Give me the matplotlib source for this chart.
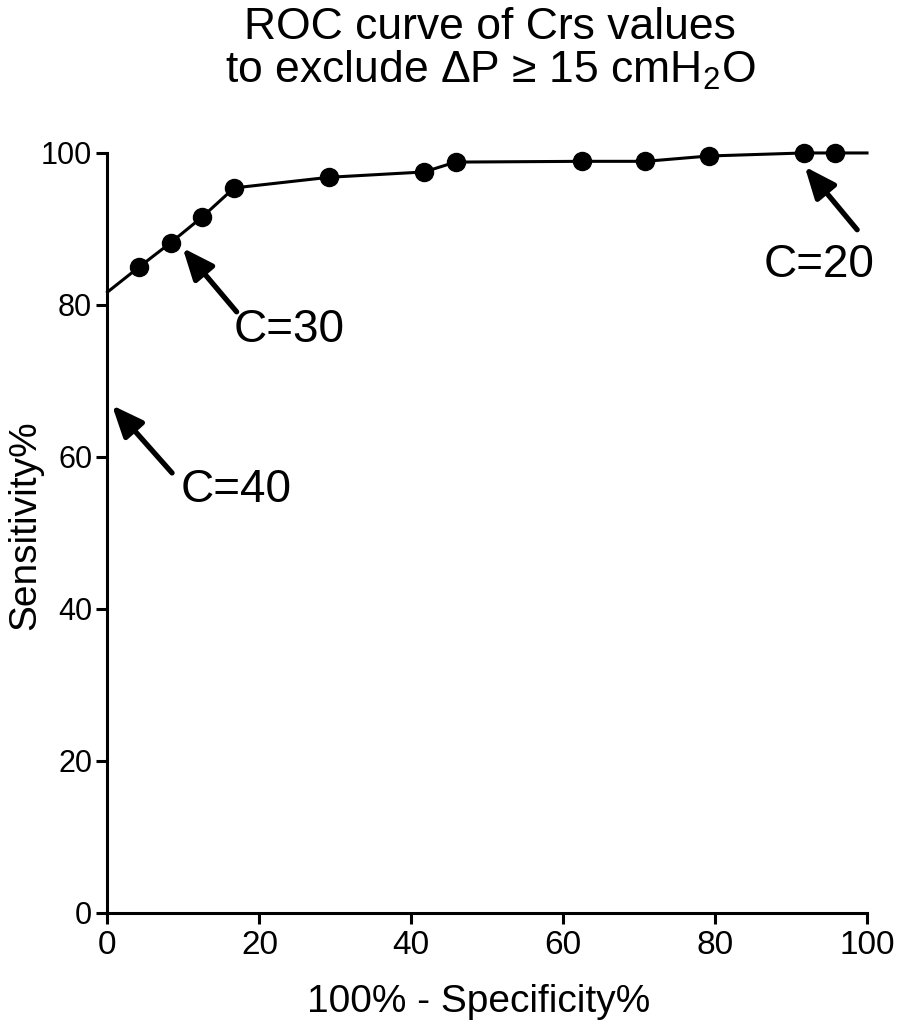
import matplotlib
matplotlib.use("Agg")
import matplotlib.pyplot as plt

plt.rcParams['font.family'] = ['Liberation Sans', 'DejaVu Sans']
plt.rcParams['mathtext.fontset'] = 'custom'
plt.rcParams['mathtext.rm'] = 'Liberation Sans'
plt.rcParams['mathtext.it'] = 'Liberation Sans:italic'

# ROC points (100% - specificity, sensitivity)
fpr = [4.17, 8.33, 12.5, 16.67, 29.17, 41.67, 45.83, 62.5, 70.83, 79.17, 91.67, 95.83]
sens = [85.0, 88.2, 91.6, 95.4, 96.8, 97.5, 98.8, 98.9, 98.9, 99.6, 100.0, 100.0]
# curve drawn from the y-intercept to (100, 100)
line_x = [0] + fpr + [100]
line_y = [81.7] + sens + [100]

ticks = [0, 20, 40, 60, 80, 100]

# annotations: label, arrow tip, arrow tail, text centre
notes = [
    ("C=40", (0.6, 66.8), (8.5, 57.9), (17.0, 55.7)),
    ("C=30", (9.9, 87.5), (17.0, 79.1), (23.9, 76.7)),
    ("C=20", (91.8, 98.2), (98.7, 89.9), (93.7, 85.2)),
]

fig = plt.figure(figsize=(8.98, 10.28), dpi=100)
ax = fig.add_axes([0.1197, 0.1119, 0.8458, 0.7393])

ax.plot(line_x, line_y, color='black', lw=2.2, clip_on=False, zorder=3)
ax.plot(fpr, sens, 'o', color='black', ms=13, clip_on=False, zorder=4)

for label, tip, tail, txt in notes:
    ax.annotate('', xy=tip, xytext=tail,
                arrowprops=dict(arrowstyle='-|>,head_length=1.9,head_width=0.8',
                                color='black', lw=3.8, shrinkA=0, shrinkB=0))
    ax.text(txt[0], txt[1], label, fontsize=33, ha='center', va='center')

ax.set_xlim(0, 100)
ax.set_ylim(0, 100)
ax.set_xticks(ticks)
ax.set_yticks(ticks)
for s in ['top', 'right']:
    ax.spines[s].set_visible(False)
for s in ['left', 'bottom']:
    ax.spines[s].set_linewidth(2.2)
ax.tick_params(direction='out', length=8, width=2.2, pad=3)
ax.tick_params(axis='x', labelsize=24, pad=4)
ax.tick_params(axis='y', labelsize=22)

ax.set_xlabel('100% - Specificity%', fontsize=28, va='baseline')
ax.xaxis.set_label_coords(0.488, -0.130)
ax.set_ylabel('Sensitivity%', fontsize=28, va='center')
ax.yaxis.set_label_coords(-0.108, 0.51)

# two-line title
fig.text(0.5457, 1 - 39 / 1028, 'ROC curve of Crs values', fontsize=32,
         ha='center', va='baseline')
fig.text(0.5457, 1 - 83 / 1028, 'to exclude ΔP ≥ 15 cmH$_2$O', fontsize=32,
         ha='center', va='baseline')

fig.savefig('out.png', dpi=100)
